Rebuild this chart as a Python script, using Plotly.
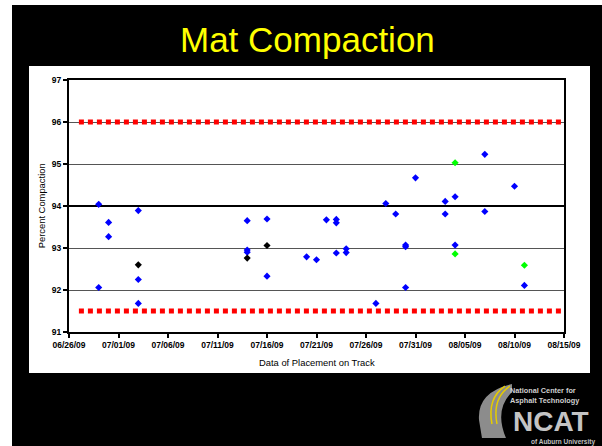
import plotly.graph_objects as go

# canvas and plot area, in pixels
W, H = 602, 446
L, R, T, B = 69, 38, 80, 114


def px(x):
    return (x - L) / (W - L - R)


def py(y):
    return (H - B - y) / (H - T - B)


# data
blue_dates = ["2009-06-29", "2009-06-29", "2009-06-30", "2009-06-30",
              "2009-07-03", "2009-07-03", "2009-07-03",
              "2009-07-14", "2009-07-14", "2009-07-14",
              "2009-07-16", "2009-07-16", "2009-07-20", "2009-07-21", "2009-07-22",
              "2009-07-23", "2009-07-23", "2009-07-23", "2009-07-24", "2009-07-24",
              "2009-07-27", "2009-07-28", "2009-07-29",
              "2009-07-30", "2009-07-30", "2009-07-30", "2009-07-31",
              "2009-08-03", "2009-08-03", "2009-08-04", "2009-08-04",
              "2009-08-07", "2009-08-07", "2009-08-10", "2009-08-11"]
blue_vals = [94.04, 92.06, 93.61, 93.27,
             93.89, 92.25, 91.68,
             93.65, 92.95, 92.90,
             93.69, 92.33, 92.79, 92.72, 93.67,
             93.68, 93.60, 92.88, 92.98, 92.89,
             91.68, 94.06, 93.81,
             93.07, 93.03, 92.06, 94.67,
             94.11, 93.81, 94.22, 93.07,
             95.23, 93.87, 94.47, 92.11]

black_dates = ["2009-07-03", "2009-07-14", "2009-07-16"]
black_vals = [92.60, 92.76, 93.06]

green_dates = ["2009-08-04", "2009-08-04", "2009-08-11"]
green_vals = [95.03, 92.86, 92.59]

upper_spec = [96.0, 96.0]
lower_spec = [91.5, 91.5]
spec_dates = ["2009-06-27", "2009-08-15"]
target = [94.0, 94.0]
target_dates = ["2009-06-26", "2009-08-15"]

tick_dates = ["2009-06-26", "2009-07-01", "2009-07-06", "2009-07-11", "2009-07-16",
              "2009-07-21", "2009-07-26", "2009-07-31", "2009-08-05", "2009-08-10",
              "2009-08-15"]
tick_labels = ["06/26/09", "07/01/09", "07/06/09", "07/11/09", "07/16/09",
               "07/21/09", "07/26/09", "07/31/09", "08/05/09", "08/10/09",
               "08/15/09"]
y_ticks = [91, 92, 93, 94, 95, 96, 97]

FONT = "Arial, Liberation Sans, sans-serif"

fig = go.Figure()

# target and spec limit lines
fig.add_trace(go.Scatter(x=target_dates, y=target, mode="lines",
                         line=dict(color="black", width=2), hoverinfo="skip"))
for ys in (upper_spec, lower_spec):
    fig.add_trace(go.Scatter(x=spec_dates, y=ys, mode="lines",
                             line=dict(color="#ff0000", width=5, dash="5px,4px"),
                             hoverinfo="skip"))

# measurements
for xs, ys, col in ((blue_dates, blue_vals, "#0000ff"),
                    (black_dates, black_vals, "#000000"),
                    (green_dates, green_vals, "#00ff00")):
    fig.add_trace(go.Scatter(x=xs, y=ys, mode="markers",
                             marker=dict(symbol="diamond", size=5.5, color=col,
                                         line=dict(width=0))))

tickfont = dict(family=FONT, size=8.5, color="black", weight="bold")

fig.update_xaxes(type="date", range=["2009-06-26", "2009-08-15"],
                 tickvals=tick_dates, ticktext=tick_labels,
                 ticks="outside", ticklen=4, tickwidth=1.5, tickcolor="black",
                 showline=True, linecolor="black", linewidth=2, mirror=True,
                 showgrid=False, zeroline=False, tickfont=tickfont)
fig.update_yaxes(range=[91, 97], tickvals=y_ticks,
                 ticks="outside", ticklen=4, tickwidth=1.5, tickcolor="black",
                 showline=True, linecolor="black", linewidth=2, mirror=True,
                 showgrid=True, gridcolor="#555555", gridwidth=1,
                 zeroline=False, tickfont=tickfont)

# slide background pieces
shapes = [
    dict(type="rect", xref="paper", yref="paper", layer="below",
         x0=px(0), x1=px(12), y0=py(H), y1=py(0),
         fillcolor="white", line=dict(width=0)),
    dict(type="rect", xref="paper", yref="paper", layer="below",
         x0=px(0), x1=px(W), y0=py(5), y1=py(0),
         fillcolor="white", line=dict(width=0)),
    dict(type="rect", xref="paper", yref="paper", layer="below",
         x0=px(29), x1=px(590), y0=py(373), y1=py(66),
         fillcolor="white", line=dict(width=0)),
]

# NCAT logo swoosh
def path(pts):
    out = []
    for cmd, coords in pts:
        out.append(cmd + " ".join("%.4f,%.4f" % (px(a), py(b)) for a, b in coords))
    return " ".join(out)


road = path([("M", [(512, 384)]), ("Q", [(477, 392), (479, 420)]),
             ("L", [(482, 438)]), ("L", [(506, 438)]),
             ("Q", [(494, 410), (512, 392)]), ("Z", [])])
shapes.append(dict(type="path", xref="paper", yref="paper", path=road,
                   fillcolor="#8c8c8c", line=dict(width=0)))
for off in (0, 5):
    stripe = path([("M", [(505 + off, 386)]), ("Q", [(487 + off, 398), (492 + off, 424)])])
    shapes.append(dict(type="path", xref="paper", yref="paper", path=stripe,
                       line=dict(color="#e6cc00", width=1.5)))

annotations = [
    dict(text="Mat Compaction", x=px(307), y=py(40), xref="paper", yref="paper",
         showarrow=False, xanchor="center", yanchor="middle",
         font=dict(family=FONT, size=35, color="#ffff00")),
    dict(text="Data of Placement on Track", x=px(316.7), y=py(362),
         xref="paper", yref="paper", showarrow=False,
         xanchor="center", yanchor="middle",
         font=dict(family=FONT, size=9.4, color="black")),
    dict(text="Percent Compaction", x=px(41.5), y=py(205.8), textangle=-90,
         xref="paper", yref="paper", showarrow=False,
         xanchor="center", yanchor="middle",
         font=dict(family=FONT, size=9.4, color="black")),
    dict(text="National Center for", x=px(509), y=py(390.5), xref="paper", yref="paper",
         showarrow=False, xanchor="left", yanchor="middle", borderpad=0,
         font=dict(family=FONT, size=7.3, color="#d0d0d0", weight="bold")),
    dict(text="Asphalt Technology", x=px(509), y=py(400), xref="paper", yref="paper",
         showarrow=False, xanchor="left", yanchor="middle", borderpad=0,
         font=dict(family=FONT, size=7.3, color="#d0d0d0", weight="bold")),
    dict(text="NCAT", x=px(512), y=py(421), xref="paper", yref="paper",
         showarrow=False, xanchor="left", yanchor="middle", borderpad=0,
         font=dict(family=FONT, size=28, color="#c4c4c4", weight="bold")),
    dict(text="of Auburn University", x=px(530), y=py(441.5), xref="paper", yref="paper",
         showarrow=False, xanchor="left", yanchor="middle", borderpad=0,
         font=dict(family=FONT, size=6.5, color="#c0c0c0", weight="bold")),
]

fig.update_layout(width=W, height=H, margin=dict(l=L, r=R, t=T, b=B, pad=0),
                  paper_bgcolor="black", plot_bgcolor="white",
                  showlegend=False, shapes=shapes, annotations=annotations)

# page has a default body margin; drop it so the figure fills the window
fig.write_html("out.html", config={"displayModeBar": False},
               post_script="document.body.style.margin = '0';")
